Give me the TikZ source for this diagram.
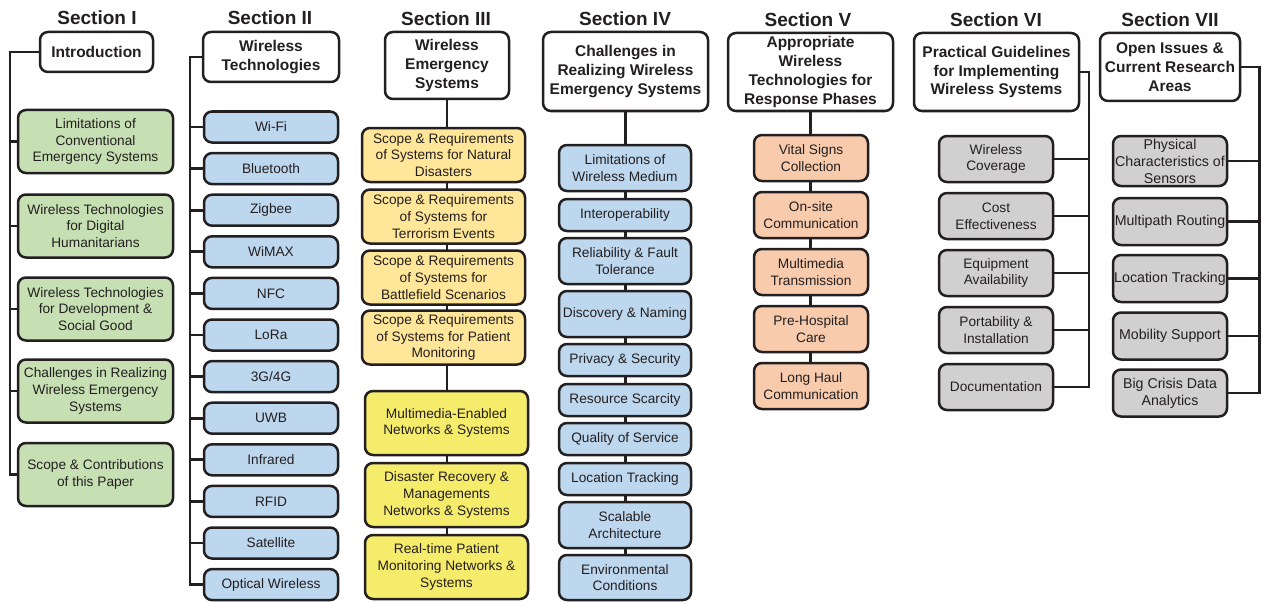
\documentclass[tikz,border=0pt]{standalone}
\usepackage{fontspec}
\setmainfont{Liberation Sans}
\usetikzlibrary{backgrounds}
\definecolor{cline}{RGB}{35,31,32}
\definecolor{cgreen}{RGB}{198,224,180}
\definecolor{cblue}{RGB}{189,215,238}
\definecolor{cly}{RGB}{255,230,153}
\definecolor{cyel}{RGB}{246,236,108}
\definecolor{corange}{RGB}{248,203,173}
\definecolor{cgray}{RGB}{208,208,208}
\tikzset{
  box/.style={draw=cline, line width=2.5pt, rounded corners=8pt, align=center, inner sep=0pt, text=cline, font=\fontsize{13.7}{16.7}\selectfont},
  hdr/.style={box, fill=white, font=\fontsize{15.5}{18.8}\selectfont\bfseries},
  sec/.style={font=\fontsize{19}{22}\selectfont\bfseries, text=cline, inner sep=0pt},
  gbox/.style={box, fill=cgreen, minimum width=155, minimum height=63},
  bbox/.style={box, fill=cblue, minimum width=134, minimum height=31},
  lybox/.style={box, fill=cly, minimum width=163, minimum height=54},
  ybox/.style={box, fill=cyel, minimum width=163, minimum height=64},
  cbox/.style={box, fill=cblue, minimum width=132, minimum height=32},
  obox/.style={box, fill=corange, minimum width=114, minimum height=46},
  sbox/.style={box, fill=cgray, minimum width=114, minimum height=46},
  tbox/.style={box, fill=cgray, minimum width=114, minimum height=47, font=\fontsize{14.2}{17}\selectfont},
  conn/.style={draw=cline, line width=2.8pt},
}
\begin{document}
\begin{tikzpicture}[x=1pt, y=-1pt]
\useasboundingbox (0,0) rectangle (1262,602);
% Section titles
\node[sec] (sI) at (97,18) {Section I};
\node[sec] (sII) at (270,18) {Section II};
\node[sec] (sIII) at (446,19) {Section III};
\node[sec] (sIV) at (625,19) {Section IV};
\node[sec] (sV) at (808,20) {Section V};
\node[sec] (sVI) at (996,20) {Section VI};
\node[sec] (sVII) at (1170,20) {Section VII};

% Section I
\node[hdr, minimum width=113, minimum height=40] (h1) at (96.5,52) {Introduction};
\node[gbox] (g1) at (95.5,141.5) {Limitations of\\Conventional\\Emergency Systems};
\node[gbox] (g2) at (95.5,226) {Wireless Technologies\\for Digital\\Humanitarians};
\node[gbox] (g3) at (95.5,309) {Wireless Technologies\\for Development \&\\Social Good};
\node[gbox] (g4) at (95.5,391) {Challenges in Realizing\\Wireless Emergency\\Systems};
\node[gbox] (g5) at (95.5,474.5) {Scope \& Contributions\\of this Paper};
\coordinate (t1) at (10,0);
\draw[conn] (h1.west) -| (t1 |- g5.west) -- (g5.west);
\foreach \n in {g1,g2,g3,g4} \draw[conn] (\n.west) -- (\n.west -| t1);

% Section II
\node[hdr, minimum width=136, minimum height=50] (h2) at (271,57) {Wireless\\Technologies};
\foreach \t [count=\i from 0] in {Wi-Fi,Bluetooth,Zigbee,WiMAX,NFC,LoRa,3G/4G,UWB,Infrared,RFID,Satellite,Optical Wireless}
  \node[bbox] (w\i) at (271,127+41.6*\i) {\t};
\coordinate (t2) at (190,0);
\draw[conn] (h2.west) -| (t2 |- w11.west) -- (w11.west);
\foreach \i in {0,...,10} \draw[conn] (w\i.west) -- (w\i.west -| t2);

% Section III
\node[hdr, minimum width=124, minimum height=67] (h3) at (447,65.5) {Wireless\\Emergency\\Systems};
\node[lybox] (r1) at (443.5,155) {Scope \& Requirements\\of Systems for Natural\\Disasters};
\node[lybox] (r2) at (443.5,216.5) {Scope \& Requirements\\of Systems for\\Terrorism Events};
\node[lybox] (r3) at (443.5,277.5) {Scope \& Requirements\\of Systems for\\Battlefield Scenarios};
\node[lybox] (r4) at (443.5,337.5) {Scope \& Requirements\\of Systems for Patient\\Monitoring};
\node[ybox] (r5) at (446.5,423) {Multimedia-Enabled\\Networks \& Systems};
\node[ybox] (r6) at (446.5,495) {Disaster Recovery \&\\Managements\\Networks \& Systems};
\node[ybox] (r7) at (446.5,567) {Real-time Patient\\Monitoring Networks \&\\Systems};
\begin{scope}[on background layer]
\draw[conn] (h3.south) -- (h3.south |- r7.north);
\end{scope}

% Section IV
\node[hdr, minimum width=165, minimum height=79] (h4) at (625.5,71.5) {Challenges in\\Realizing Wireless\\Emergency Systems};
\node[cbox, minimum height=46] (c1) at (625,168) {Limitations of\\Wireless Medium};
\node[cbox] (c2) at (625,215) {Interoperability};
\node[cbox, minimum height=46] (c3) at (625,261) {Reliability \& Fault\\Tolerance};
\node[cbox, minimum height=46] (c4) at (625,314) {Discovery \& Naming};
\node[cbox] (c5) at (625,360) {Privacy \& Security};
\node[cbox] (c6) at (625,400) {Resource Scarcity};
\node[cbox] (c7) at (625,439) {Quality of Service};
\node[cbox] (c8) at (625,479) {Location Tracking};
\node[cbox, minimum height=46] (c9) at (625,525) {Scalable\\Architecture};
\node[cbox, minimum height=45] (c10) at (625,577.5) {Environmental\\Conditions};
\begin{scope}[on background layer]
\draw[conn] (h4.south) -- (h4.south |- c10.north);
\end{scope}

% Section V
\node[hdr, minimum width=165, minimum height=78] (h5) at (810.5,72) {Appropriate\\Wireless\\Technologies for\\Response Phases};
\node[obox] (o1) at (811,158) {Vital Signs\\Collection};
\node[obox] (o2) at (811,215) {On-site\\Communication};
\node[obox] (o3) at (811,272) {Multimedia\\Transmission};
\node[obox] (o4) at (811,329) {Pre-Hospital\\Care};
\node[obox] (o5) at (811,386) {Long Haul\\Communication};
\begin{scope}[on background layer]
\draw[conn] (h5.south) -- (h5.south |- o5.north);
\end{scope}

% Section VI
\node[hdr, minimum width=165, minimum height=78] (h6) at (996.5,72) {Practical Guidelines\\for Implementing\\Wireless Systems};
\node[sbox] (p1) at (996,159) {Wireless\\Coverage};
\node[sbox] (p2) at (996,216) {Cost\\Effectiveness};
\node[sbox] (p3) at (996,273) {Equipment\\Availability};
\node[sbox] (p4) at (996,330) {Portability \&\\Installation};
\node[sbox] (p5) at (996,387) {Documentation};
\coordinate (t6) at (1089,0);
\draw[conn] (h6.east) -| (t6 |- p5.east) -- (p5.east);
\foreach \n in {p1,p2,p3,p4} \draw[conn] (\n.east) -- (\n.east -| t6);

% Section VII
\node[hdr, minimum width=140, minimum height=68] (h7) at (1170,67) {Open Issues \&\\Current Research\\Areas};
\node[tbox, minimum height=50] (q1) at (1170,161) {Physical\\Characteristics of\\Sensors};
\node[tbox] (q2) at (1170,221.5) {Multipath Routing};
\node[tbox] (q3) at (1170,278.5) {Location Tracking};
\node[tbox] (q4) at (1170,336) {Mobility Support};
\node[tbox] (q5) at (1170,393) {Big Crisis Data\\Analytics};
\coordinate (t7) at (1259.5,0);
\draw[conn] (h7.east) -| (t7 |- q5.east) -- (q5.east);
\foreach \n in {q1,q2,q3,q4} \draw[conn] (\n.east) -- (\n.east -| t7);
\end{tikzpicture}
\end{document}
